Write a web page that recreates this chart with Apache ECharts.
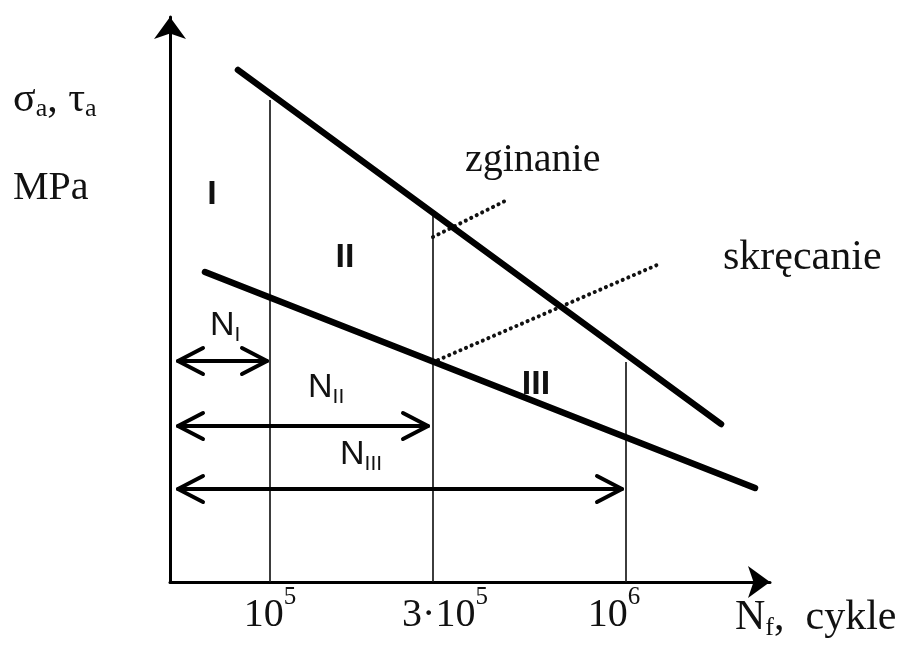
<!DOCTYPE html>
<html><head><meta charset="utf-8">
<script src="https://cdn.jsdelivr.net/npm/echarts@6/dist/echarts.min.js"></script>
<style>html,body{margin:0;padding:0;background:#fff}#c{width:905px;height:653px}</style>
</head><body><div id="c"></div>
<script>
// Schematic fatigue (S-N) diagram, abstract diagram units
const xMax = 600, yMax = 565;
const bendingLine = [[68, 512], [551, 158]];     // zginanie
const torsionLine = [[35, 310], [585, 94]];      // skręcanie
const boundaryX = [100, 263, 456];               // 10^5, 3·10^5, 10^6
const boundaryTop = [482, 367, 220];
const tickBase = ['10', '3·10', '10'];
const tickExp = ['5', '5', '6'];
const bendingPointer = [[263, 345], [337, 382]];
const torsionPointer = [[268, 222], [487, 317]];
const spanStart = [8, 8, 8];
const spanEnd = [97, 258, 452];
const spanLevel = [221, 156, 93];
const spanNames = ['I', 'II', 'III'];

const SERIF = '"Liberation Serif","Times New Roman",serif';
const SANS = '"Liberation Sans",Arial,sans-serif';

const chart = echarts.init(document.getElementById('c'), null, {renderer: 'canvas'});

const series = [];
series.push({type: 'line', data: bendingLine, symbol: 'none', lineStyle: {color: '#000', width: 6.5, cap: 'round'}, z: 5, silent: true});
series.push({type: 'line', data: torsionLine, symbol: 'none', lineStyle: {color: '#000', width: 6.5, cap: 'round'}, z: 5, silent: true});
boundaryX.forEach((bx, i) => {
  series.push({type: 'line', data: [[bx, 0], [bx, boundaryTop[i]]], symbol: 'none', lineStyle: {color: '#1a1a1a', width: 1.7}, z: 3, silent: true});
});
[bendingPointer, torsionPointer].forEach(p => {
  series.push({type: 'line', data: p, symbol: 'none', lineStyle: {color: '#111', width: 4, type: [0.1, 6], cap: 'round'}, z: 4, silent: true});
});
series.push({
  type: 'custom', silent: true, z: 6, clip: false,
  encode: {x: [0, 1], y: 2},
  data: spanStart.map((s, i) => [s, spanEnd[i], spanLevel[i]]),
  renderItem: function (params, api) {
    const a = api.coord([api.value(0), api.value(2)]);
    const b = api.coord([api.value(1), api.value(2)]);
    const L = 25, H = 13;
    const st = {stroke: '#000', lineWidth: 4, fill: null, lineJoin: 'round', lineCap: 'round'};
    return {type: 'group', children: [
      {type: 'line', shape: {x1: a[0], y1: a[1], x2: b[0], y2: b[1]}, style: st},
      {type: 'polyline', shape: {points: [[a[0] + L, a[1] - H], [a[0], a[1]], [a[0] + L, a[1] + H]]}, style: st},
      {type: 'polyline', shape: {points: [[b[0] - L, b[1] - H], [b[0], b[1]], [b[0] - L, b[1] + H]]}, style: st}
    ]};
  }
});

function txt(x, y, text, rich, align) {
  return {type: 'text', x: x, y: y, silent: true,
    style: {text: text, rich: rich, align: align || 'left', verticalAlign: 'middle', fill: '#111'}};
}
const serifRich = {
  m: {fontFamily: SERIF, fontSize: 40, lineHeight: 44, color: '#111'},
  k: {fontFamily: SERIF, fontSize: 42, lineHeight: 46, color: '#111'},
  g: {fontFamily: SERIF, fontSize: 42, lineHeight: 44, color: '#111'},
  s: {fontFamily: SERIF, fontSize: 26, lineHeight: 26, padding: [14, 0, 0, 0], verticalAlign: 'bottom', color: '#111'}
};
const sansRich = {
  n: {fontFamily: SANS, fontSize: 34, lineHeight: 40, color: '#111'},
  s: {fontFamily: SANS, fontSize: 21, lineHeight: 21, padding: [12, 0, 0, 0], verticalAlign: 'bottom', color: '#111'},
  b: {fontFamily: SANS, fontSize: 34, fontWeight: 'bold', lineHeight: 40, color: '#111'}
};

const graphic = [
  txt(13, 100, '{g|σ}{s|a}{g|, τ}{s|a}', serifRich),
  txt(13, 188, '{m|MPa}', serifRich),
  txt(465, 160, '{m|zginanie}', serifRich),
  txt(723, 258, '{k|skręcanie}', serifRich),
  txt(735, 618, '{k|N}{s|f}{k|,  cykle}', serifRich),
  txt(212, 195, '{b|I}', sansRich, 'center'),
  txt(345, 258, '{b|II}', sansRich, 'center'),
  txt(536, 385, '{b|III}', sansRich, 'center'),
  txt(210, 326, '{n|N}{s|' + spanNames[0] + '}', sansRich),
  txt(308, 388, '{n|N}{s|' + spanNames[1] + '}', sansRich),
  txt(340, 455, '{n|N}{s|' + spanNames[2] + '}', sansRich)
];

chart.setOption({
  animation: false,
  backgroundColor: '#fff',
  grid: {left: 170, right: 135, top: 17, bottom: 71, containLabel: false},
  xAxis: {
    type: 'value', min: 0, max: xMax,
    splitLine: {show: false},
    axisTick: {show: false},
    axisLine: {show: true, onZero: false, symbol: ['none', 'arrow'], symbolSize: [24, 22], lineStyle: {color: '#000', width: 3}},
    axisLabel: {
      show: true, customValues: boundaryX, margin: 3,
      formatter: function (v) {
        const i = boundaryX.indexOf(v);
        if (i < 0) return '';
        const pre = i === 1 ? '{p|}' : '';
        const post = i === 2 ? '{q|}' : '';
        return pre + '{d|' + tickBase[i] + '}{e|' + tickExp[i] + '}' + post;
      },
      rich: {
        d: {fontFamily: SERIF, fontSize: 40, lineHeight: 50, color: '#111', verticalAlign: 'bottom'},
        e: {fontFamily: SERIF, fontSize: 25, lineHeight: 25, color: '#111', verticalAlign: 'top'},
        p: {width: 24},
        q: {width: 24}
      }
    }
  },
  yAxis: {
    type: 'value', min: 0, max: yMax,
    splitLine: {show: false},
    axisTick: {show: false},
    axisLabel: {show: false},
    axisLine: {show: true, onZero: false, symbol: ['none', 'arrow'], symbolSize: [24, 22], lineStyle: {color: '#000', width: 3}}
  },
  graphic: graphic,
  series: series
});
</script>
</body></html>
